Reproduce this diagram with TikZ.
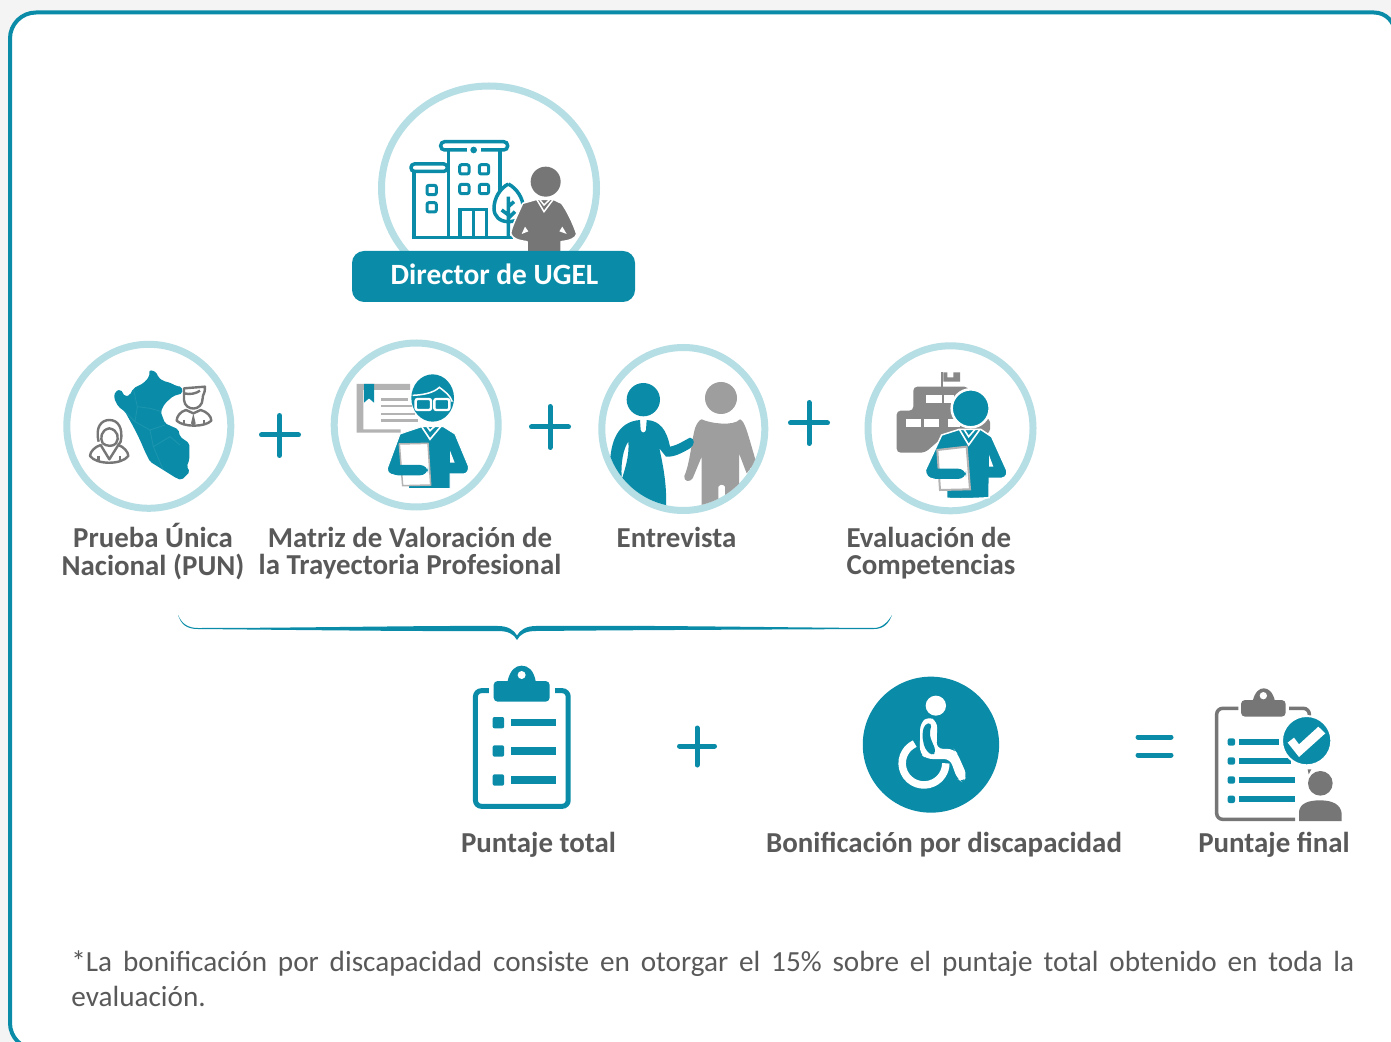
\documentclass[tikz,border=0pt]{standalone}
\usepackage{fontspec}
\setmainfont{Carlito}
\definecolor{teal1}{HTML}{0A8CA8}
\definecolor{ring}{HTML}{B6DEE5}
\definecolor{gr1}{HTML}{767676}
\definecolor{gr2}{HTML}{9E9E9E}
\definecolor{gr3}{HTML}{888888}
\definecolor{gr4}{HTML}{B3B3B3}
\definecolor{txt}{HTML}{595959}
\definecolor{outside}{HTML}{F4F4F4}
\tikzset{
 px/.style={line width=#1*0.5pt},
 ringc/.style={draw=ring,px=7,fill=white},
 lab/.style={font=\fontsize{14.45}{14}\selectfont\bfseries,text=txt,inner sep=0pt,anchor=base},
 lab2/.style={font=\fontsize{14.45}{13.6}\selectfont\bfseries,text=txt,inner sep=0pt,align=center},
 sign/.style={draw=teal1,px=5,line cap=round},
 z1/.style={shift={(340,70)},scale=1/3},
 z2/.style={shift={(50,330)},scale=1/3},
 z3/.style={shift={(590,330)},scale=1/3},
 z4/.style={shift={(450,655)},xscale=1/2.75,yscale=1/3},
 z5/.style={shift={(1120,675)},scale=1/3},
}
\begin{document}
\begin{tikzpicture}[x=0.5pt,y=-0.5pt]
\useasboundingbox (0,0) rectangle (1391,1042);
\clip (0,0) rectangle (1391,1042);
\fill[outside] (0,0) rectangle (1391,1042);
% frame
\draw[draw=teal1,px=4,fill=white] (36,1049) arc[start angle=90,end angle=180,radius=26] -- (10,38.5) arc[start angle=180,end angle=270,radius=26] -- (1374,12.5) arc[start angle=270,end angle=360,radius=21] -- (1395,1049) -- cycle;
% ---------- Director
\draw[ringc] (489,188) ellipse[x radius=107.5,y radius=102];
\begin{scope}[z1]
 \draw[teal1,px=3.5,line join=round] (222,500) -- (222,302) (326,240) -- (326,500) (480,240) -- (480,370) (215,502) -- (520,502);
 \draw[teal1,px=3.5,rounded corners=2pt] (302,215) rectangle (503,240);
 \fill[white] (382,234) rectangle (422,246);
 \fill[teal1] (401,240) circle[radius=10];
 \draw[teal1,px=3.5,rounded corners=1.7pt,fill=white] (213,282) rectangle (322,304);
 \foreach \a/\b in {373/298,432/298,373/357,432/357,275/360,275/412}
   \draw[teal1,px=3,rounded corners=1pt] (\a-14,\b-14) rectangle (\a+14,\b+14);
 \draw[teal1,px=3.5] (360,500) -- (360,418) -- (440,418) -- (440,500) (400,418) -- (400,500);
 \draw[teal1,px=3.5,fill=white] (505,342) .. controls (480,355) and (462,385) .. (462,415) .. controls (462,440) and (480,455) .. (505,455) .. controls (535,455) and (550,440) .. (550,415) .. controls (550,385) and (530,355) .. (505,342);
 \draw[teal1,px=3.5] (505,380) -- (505,502) (505,410) -- (522,395) (505,435) -- (485,420) (505,445) -- (525,425);
 \draw[white,px=1.5,fill=gr1,line join=round] (590,388) -- (548,400) .. controls (530,440) and (515,470) .. (512,490) .. controls (515,505) and (535,512) .. (561,515) -- (561,560) -- (663,560) -- (663,515) .. controls (690,512) and (708,505) .. (710,492) .. controls (700,460) and (680,420) .. (665,400) -- (640,388) -- cycle;
 \fill[gr1] (617,335) circle[radius=45];
 \draw[white,px=1.5] (590,388) -- (612,425) -- (640,388) (600,390) -- (612,405) -- (628,390);
 \fill[white] (555,470) -- (565,484) -- (545,492) -- cycle (667,470) -- (658,484) -- (680,492) -- cycle;
\end{scope}
\node[fill=teal1,rounded corners=6pt,minimum width=141.5pt,minimum height=25.5pt,inner sep=0pt] (dir) at (493.5,276.5) {};
\node[font=\fontsize{14.7}{14}\selectfont\bfseries,text=white,inner sep=0pt,anchor=base] (dirt) at (494.5,284.5) {Director de UGEL};
% ---------- rings
\draw[ringc] (148.8,426.3) circle[radius=82];
\draw[ringc] (416.2,425) circle[radius=82];
\draw[ringc] (683.3,429) circle[radius=81.5];
\draw[ringc] (950.5,428.3) circle[radius=82.5];
% ---------- PUN
\begin{scope}[z2]
 \fill[teal1,rounded corners=1pt] (298,120) -- (318,125) -- (325,142) -- (338,152) -- (365,160) -- (378,168) -- (395,170) -- (398,190) -- (370,198) -- (345,220) -- (332,245) -- (345,280) -- (385,298) -- (390,320) -- (418,340) -- (418,390) -- (410,410) -- (420,425) -- (395,450) -- (380,445) -- (340,420) -- (300,395) -- (285,365) -- (270,330) -- (250,290) -- (225,245) -- (205,230) -- (192,205) -- (195,185) -- (212,178) -- (225,200) -- (240,195) -- (250,175) -- (280,160) -- (298,140) -- cycle;
 \draw[white,opacity=.08,px=.8] (250,175) -- (262,230) -- (300,235) -- (335,245) (262,230) -- (255,275) -- (300,300) -- (345,285) (300,300) -- (310,350) -- (360,320) -- (390,345) (310,350) -- (340,420) (225,245) -- (255,275);
 % man
 \draw[gr1,px=2.4,line join=round] (402,210) -- (402,175) -- (465,170) .. controls (465,195) and (458,190) .. (458,205) .. controls (458,245) and (405,245) .. (402,210) (402,190) .. controls (420,195) and (440,190) .. (450,182);
 \draw[gr1,px=2.4,line join=round] (408,240) .. controls (390,245) and (380,260) .. (380,272) .. controls (400,292) and (465,292) .. (484,272) .. controls (484,258) and (470,245) .. (452,240) -- (430,250) -- cycle;
 \fill[gr1] (430,250) -- (437,280) -- (430,288) -- (423,280) -- cycle;
 \draw[gr1,px=2.4] (402,270) -- (402,282) (462,270) -- (462,282);
 % woman
 \draw[gr1,px=2.4,line join=round] (146,335) .. controls (135,290) and (155,270) .. (178,270) .. controls (205,270) and (220,295) .. (212,335) -- (205,345) (158,340) .. controls (150,325) and (152,300) .. (178,295) .. controls (205,300) and (208,325) .. (198,340) .. controls (190,350) and (170,350) .. (158,340);
 \draw[gr1,px=2.4,line join=round] (152,345) .. controls (135,350) and (120,365) .. (120,378) .. controls (140,405) and (215,405) .. (235,378) .. controls (235,365) and (220,350) .. (205,345) -- (178,388) -- cycle;
 \draw[gr1,px=2.4] (145,378) -- (145,392) (210,378) -- (210,392);
\end{scope}
% ---------- Matrix
\begin{scope}[z2]
 \fill[gr4] (920,162) -- (1080,162) -- (1080,180) -- (940,180) -- (940,298) -- (1052,298) -- (1052,308) -- (920,308) -- cycle;
 \fill[teal1] (942,162) -- (972,162) -- (972,218) -- (957,205) -- (942,218) -- cycle;
 \foreach \a/\b in {205/1075,225/1085,248/1095,268/1105} \fill[gr4] (993,\a) rectangle (\b,\a+7);
 \draw[fill=teal1,draw=white,px=1] (1115,290) -- (1050,312) -- (1012,415) .. controls (1012,428) and (1020,435) .. (1035,435) -- (1075,435) -- (1075,476) -- (1200,476) -- (1200,432) -- (1240,432) .. controls (1252,432) and (1257,420) .. (1255,408) -- (1215,312) -- (1180,290) -- cycle;
 \fill[white] (1200,398) -- (1214,398) -- (1200,362) -- cycle;
 \fill[teal1] (1148,204) ellipse[x radius=64,y radius=71];
 \draw[white,px=1.5] (1088,196) .. controls (1115,195) and (1150,190) .. (1168,172) .. controls (1185,185) and (1200,195) .. (1207,215);
 \draw[white,px=2.4,rounded corners=1pt,fill=teal1] (1097,207) rectangle (1143,240);
 \draw[white,px=2.4,rounded corners=1pt,fill=teal1] (1153,207) rectangle (1198,240);
 \draw[white,px=1.6] (1115,290) -- (1140,328) -- (1172,290) (1130,288) -- (1140,302) -- (1155,288);
 \draw[gr4,px=1.5,fill=white] (1048,342) -- (1134,340) -- (1142,465) -- (1058,467) -- cycle;
 \fill[teal1,rounded corners=4pt] (1020,405) rectangle (1134,436);
\end{scope}
% ---------- Entrevista
\begin{scope}
 \clip (683.3,429) circle[radius=78];
 \begin{scope}[z3]
  \fill[gr2] (335,268) .. controls (360,280) and (430,290) .. (450,268) .. controls (465,275) and (470,300) .. (498,395) -- (470,430) -- (447,370) -- (447,530) -- (405,530) -- (405,470) .. controls (400,462) and (390,462) .. (385,470) -- (385,540) -- (335,540) -- (335,380) -- (308,445) .. controls (300,458) and (280,455) .. (283,438) .. controls (300,400) and (305,330) .. (315,295) .. controls (320,280) and (328,270) .. (335,268) -- cycle;
  \fill[gr2] (393,204) circle[radius=48];
  \fill[teal1] (160,209) circle[radius=50];
  \fill[teal1] (150,270) -- (152,300) .. controls (155,310) and (165,310) .. (168,300) -- (170,270) .. controls (210,272) and (230,300) .. (240,350) .. controls (265,345) and (285,330) .. (300,323) .. controls (315,325) and (315,345) .. (300,355) .. controls (275,370) and (250,382) .. (228,380) -- (208,355) .. controls (225,430) and (230,480) .. (228,530) -- (60,530) -- (98,440) .. controls (110,400) and (118,370) .. (115,335) .. controls (100,355) and (92,400) .. (95,440) -- (60,400) .. controls (62,340) and (80,275) .. (150,270) -- cycle;
 \end{scope}
\end{scope}
% ---------- Evaluacion
\begin{scope}[z3]
 \fill[gr3] (1053,125) rectangle (1060,172);
 \fill[gr3] (1060,127) -- (1072,127) -- (1072,142) -- (1090,142) -- (1090,127) -- (1110,127) -- (1110,155) -- (1060,155) -- cycle;
 \fill[gr3,rounded corners=2pt] (920,242) -- (970,242) -- (970,170) -- (1135,170) -- (1145,265) -- (1200,265) -- (1200,310) -- (1060,320) -- (1005,368) -- (920,368) -- cycle;
 \foreach \a/\b/\c/\d in {948/267/993/292,1002/267/1047/292,1075/267/1110/292,1008/195/1055/220,1062/195/1092/220}
  \fill[white] (\a,\b) rectangle (\c,\d);
 \draw[fill=teal1,draw=white,px=1.5] (1108,298) -- (1055,315) -- (1006,420) .. controls (1006,435) and (1015,447) .. (1030,447) -- (1070,447) -- (1070,505) .. controls (1110,508) and (1170,505) .. (1197,503) -- (1198,445) -- (1235,445) .. controls (1250,443) and (1253,430) .. (1250,420) -- (1205,320) -- (1172,298) -- cycle;
 \fill[white] (1197,410) -- (1210,410) -- (1197,375) -- cycle;
 \draw[white,px=2.5,fill=teal1] (1142,235) circle[radius=57];
 \draw[white,px=1.6] (1108,298) -- (1136,345) -- (1170,298) (1122,298) -- (1136,320) -- (1155,298);
 \draw[gr4,px=2,fill=white] (1042,360) -- (1130,350) -- (1140,478) -- (1050,480) -- cycle;
 \fill[teal1,rounded corners=4pt] (1015,416) rectangle (1128,447);
\end{scope}
% ---------- signs
\draw[sign] (261.5,435) -- (298.5,435) (279.5,415.5) -- (279.5,455.5);
\draw[sign] (531.5,427) -- (568.5,427) (550,406.5) -- (550,447.5);
\draw[sign] (790.5,423) -- (827.5,423) (809,402.5) -- (809,443.5);
\draw[sign] (679.5,746) -- (714.5,746) (697,728) -- (697,765);
\draw[sign] (1138,737) -- (1171,737) (1138,755) -- (1171,755);
% ---------- labels
\node[lab2] (l1) at (153,551.5) {Prueba Única\\Nacional (PUN)};
\node[lab2] (l2) at (410,553.5) {Matriz de Valoración de\\la Trayectoria Profesional};
\node[lab] (l3) at (676.5,547.5) {Entrevista};
\node[lab2,align=left] (l4) at (931,553.5) {Evaluación de\\Competencias};
\node[lab] (l5) at (538.5,852.5) {Puntaje total};
\node[lab] (l6) at (944,852.5) {Bonificación por discapacidad};
\node[lab] (l7) at (1274,852.5) {Puntaje final};
% ---------- brace
\fill[teal1] (178,615) .. controls (181,624) and (186,629) .. (198,629) .. controls (300,630) and (420,631.5) .. (498,631) .. controls (508,631) and (514,634) .. (517,640) .. controls (520,634) and (526,631) .. (536,631) .. controls (640,630) and (780,629.5) .. (874,629) .. controls (884,629) and (889,623) .. (892,615) .. controls (888,622) and (882,628) .. (874,628) .. controls (780,627.5) and (640,625) .. (536,626) .. controls (526,626) and (520,630) .. (517,635.5) .. controls (514,630) and (508,626) .. (498,626) .. controls (420,625.5) and (300,628) .. (198,628) .. controls (188,628) and (182,624) .. (178,615) -- cycle;
% ---------- total clipboard
\begin{scope}[z4]
 \draw[teal1,px=5,rounded corners=3pt] (107,107) -- (70,107) -- (70,454) -- (325,454) -- (325,107) -- (289,107);
 \fill[teal1,rounded corners=2pt] (120,78) rectangle (274,140);
 \fill[teal1] (158,80) .. controls (165,45) and (180,32) .. (197,32) .. controls (215,32) and (230,45) .. (236,80) -- cycle;
 \fill[white] (197,60) ellipse[x radius=11,y radius=12];
 \foreach \y in {203,288,375} {
  \fill[teal1] (168,\y-11) rectangle (292,\y+11);
  \fill[teal1,rounded corners=1pt] (117,\y-17) rectangle (149,\y+17);
 }
 % wheelchair
 \fill[teal1] (1322.5,269) ellipse[x radius=187.5,y radius=204];
 \fill[white] (1336,152) ellipse[x radius=28,y radius=30];
 \draw[white,px=7.5] (1278,266) arc[start angle=245,end angle=0,x radius=60,y radius=65];
 \fill[white,rounded corners=3pt] (1293,205) -- (1315,184) -- (1340,200) -- (1338,281) -- (1385,282) -- (1395,295) -- (1422,362) -- (1410,382) -- (1395,372) -- (1375,312) -- (1310,312) -- (1292,295) -- cycle;
 \fill[teal1,rounded corners=2pt] (1305,207) -- (1325,203) -- (1318,240) -- (1337,290) -- (1325,303) -- (1305,280) -- (1298,240) -- cycle;
\end{scope}
% ---------- final clipboard
\begin{scope}[z5]
 \draw[gr1,px=3.5,rounded corners=3pt] (355,100) -- (290,100) -- (290,433) -- (525,433);
 \draw[gr1,px=3.5,rounded corners=3pt] (507,100) -- (568,100) -- (568,125);
 \fill[gr1] (563,283) -- (574,283) -- (566,298) -- cycle;
 \fill[gr1,rounded corners=2pt] (363,75) rectangle (497,125);
 \fill[gr1] (398,78) .. controls (405,50) and (418,40) .. (431,40) .. controls (445,40) and (458,50) .. (465,78) -- cycle;
 \fill[white] (430,62) circle[radius=11];
 \foreach \y/\e in {201/476,258/512,315/524,373/524} {
  \fill[teal1] (358,\y-9) rectangle (\e,\y+9);
  \fill[teal1,rounded corners=1pt] (323,\y-11) rectangle (345,\y+11);
 }
 \draw[white,px=2,fill=teal1] (560,197) circle[radius=74];
 \fill[white] (503,203) -- (522,188) -- (537,208) -- (595,155) -- (616,175) -- (537,246) -- cycle;
 \fill[gr1] (601,325) circle[radius=37];
 \fill[gr1] (537,438) -- (537,410) .. controls (540,385) and (565,376) .. (600,376) .. controls (640,376) and (662,390) .. (665,415) -- (665,438) -- cycle;
\end{scope}
% ---------- note
\node[font=\fontsize{14.6}{17.5}\selectfont,text=txt,inner sep=0pt,text width=641.5pt,align=justify,anchor=north west] (note) at (71,950) {*La bonificación por discapacidad consiste en otorgar el 15\% sobre el puntaje total obtenido en toda la\linebreak evaluación.};
\end{tikzpicture}
\end{document}
